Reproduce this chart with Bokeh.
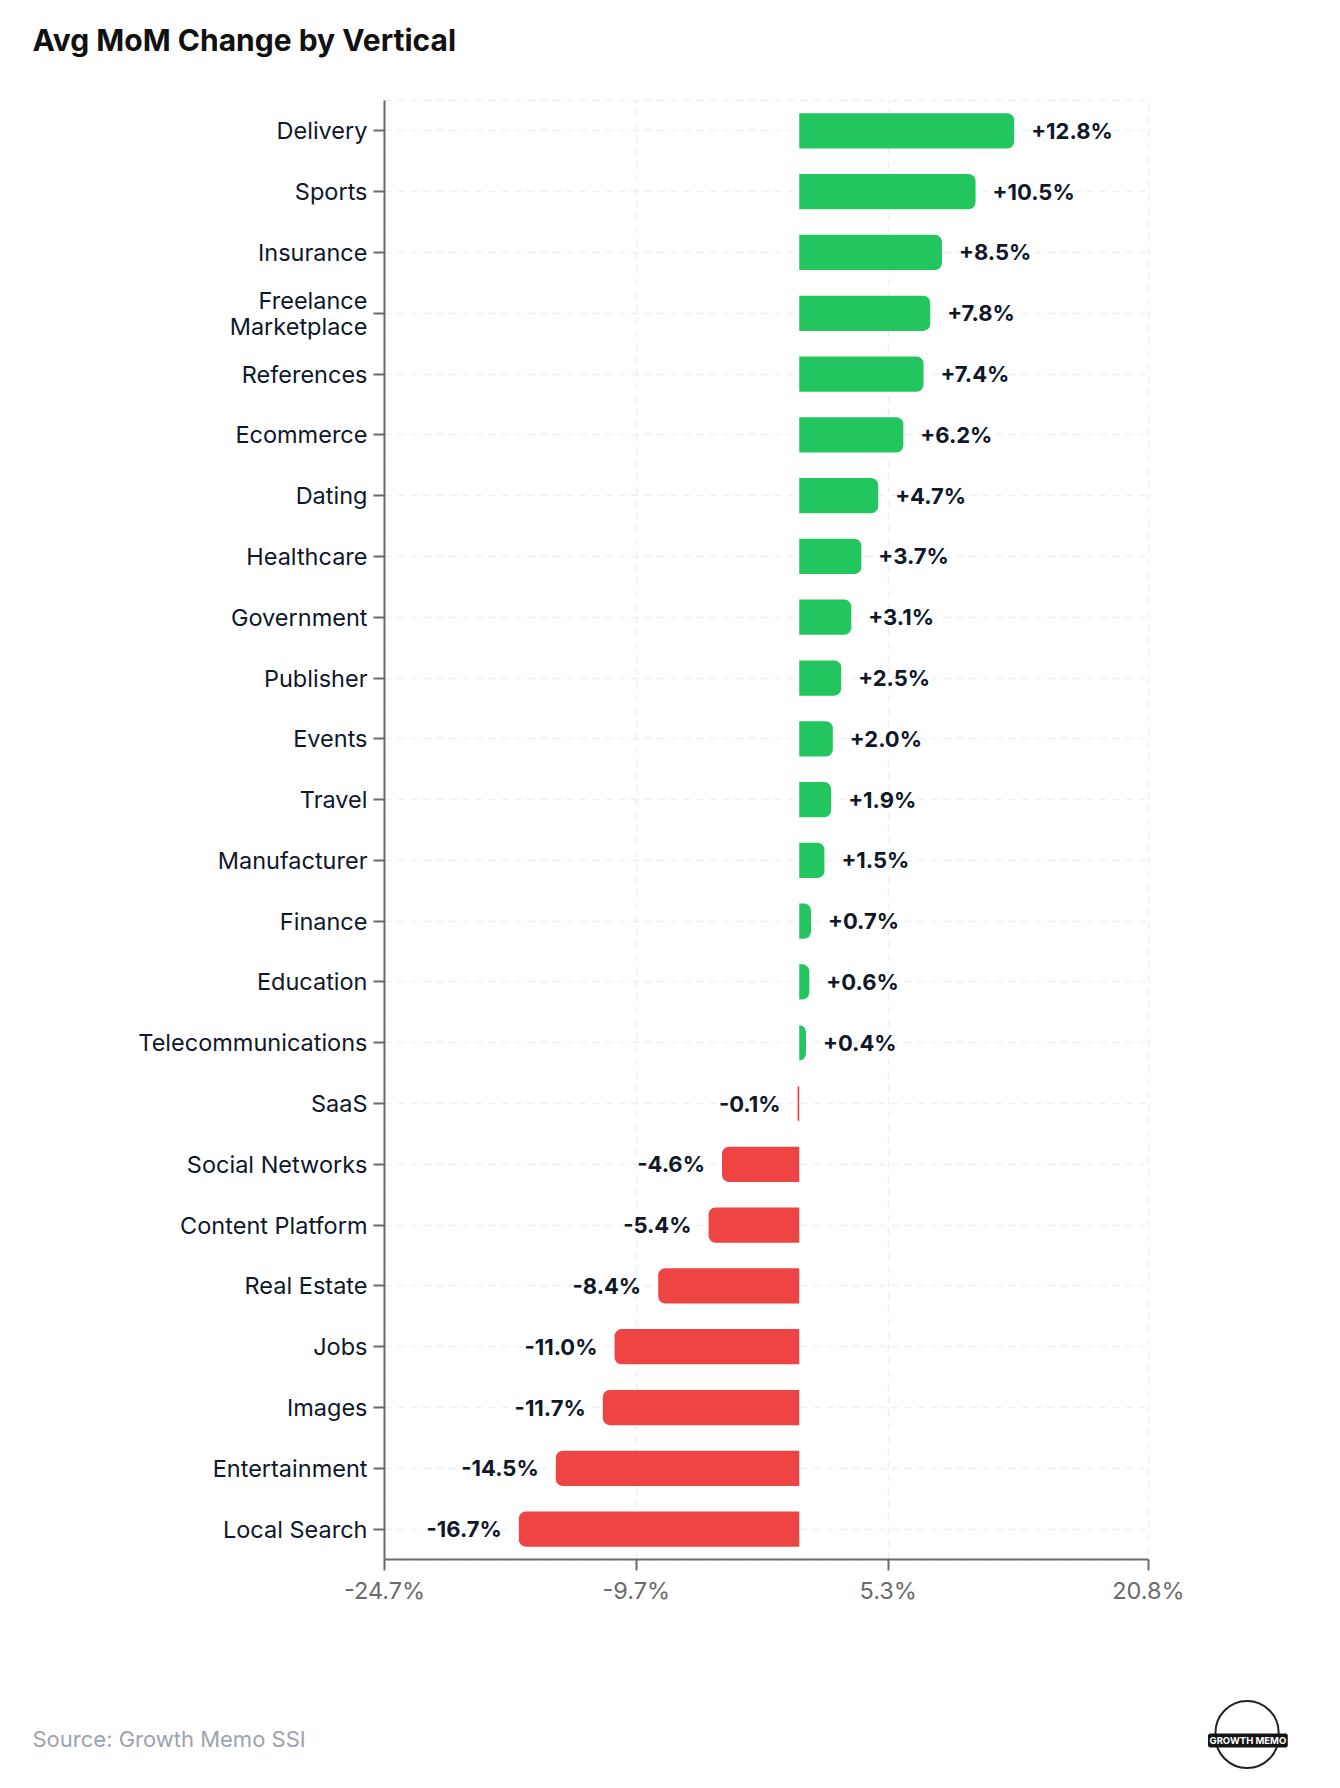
from bokeh.plotting import figure
from bokeh.models import Range1d, FactorRange, FixedTicker, PrintfTickFormatter, ColumnDataSource, Title
from bokeh.embed import file_html
from bokeh.resources import INLINE
from bokeh.core.properties import value

# ---- data ----
title_text = "Avg MoM Change by Vertical"
source_text = "Source: Growth Memo SSI"
logo_text = "GROWTH MEMO"
verticals = ["Delivery", "Sports", "Insurance", "Freelance\nMarketplace", "References",
             "Ecommerce", "Dating", "Healthcare", "Government", "Publisher", "Events",
             "Travel", "Manufacturer", "Finance", "Education", "Telecommunications",
             "SaaS", "Social Networks", "Content Platform", "Real Estate", "Jobs",
             "Images", "Entertainment", "Local Search"]
changes = [12.8, 10.5, 8.5, 7.8, 7.4, 6.2, 4.7, 3.7, 3.1, 2.5, 2.0, 1.9, 1.5, 0.7,
           0.6, 0.4, -0.1, -4.6, -5.4, -8.4, -11.0, -11.7, -14.5, -16.7]
x_ticks = [-24.7, -9.7, 5.3, 20.8]
x_min, x_max = -24.7, 20.8

FONT = "Inter"
W, H = 1324, 1772
FL, FR, FT, FB = 384, 1148, 100, 1559   # frame edges in canvas px
GREEN = "#22c55e"
RED = "#ef4444"
DARK = "#111827"

factors = list(reversed(verticals))
p = figure(width=W, height=H, y_range=FactorRange(factors=factors),
           x_range=Range1d(x_min, x_max), toolbar_location=None, output_backend="svg",
           min_border_left=FL, min_border_right=W - FR, min_border_top=FT,
           min_border_bottom=H - FB)

pos = ColumnDataSource(dict(y=[v for v, c in zip(verticals, changes) if c >= 0],
                            x=[c for c in changes if c >= 0],
                            lab=[f"{c:+.1f}%" for c in changes if c >= 0]))
neg = ColumnDataSource(dict(y=[v for v, c in zip(verticals, changes) if c < 0],
                            x=[c for c in changes if c < 0],
                            lab=[f"{c:+.1f}%" for c in changes if c < 0]))

p.hbar(y="y", left=0, right="x", height=0.58, source=pos, fill_color=GREEN,
       line_color=None, border_radius=(0, 7, 7, 0))
p.hbar(y="y", left="x", right=0, height=0.58, source=neg, fill_color=RED,
       line_color=None, border_radius=(7, 0, 0, 7))

p.text(x="x", y="y", text="lab", source=pos, x_offset=17, text_align="left",
       text_baseline="middle", text_font=value(FONT), text_font_style="bold",
       text_font_size="22px", text_color=DARK)
p.text(x="x", y="y", text="lab", source=neg, x_offset=-17, text_align="right",
       text_baseline="middle", text_font=value(FONT), text_font_style="bold",
       text_font_size="22px", text_color=DARK)

# title (pushed up by an invisible spacer between it and the frame)
p.title.text = title_text
p.title.align = "left"
p.title.offset = 32 - FL
p.title.text_font = FONT
p.title.text_font_style = "bold"
p.title.text_font_size = "30px"
p.title.text_color = "#111111"
p.title.standoff = 10
p.add_layout(Title(text=" ", text_font_size="1px", standoff=35), "above")

# axes
p.xaxis.ticker = FixedTicker(ticks=x_ticks)
p.xaxis.formatter = PrintfTickFormatter(format="%.1f%%")
for ax in (p.xaxis, p.yaxis):
    ax.axis_line_color = "#6b6b6b"
    ax.axis_line_width = 2
    ax.major_tick_line_color = "#6b6b6b"
    ax.major_tick_line_width = 2
    ax.major_tick_out = 11
    ax.major_tick_in = 0
    ax.minor_tick_line_color = None
    ax.major_label_text_font = FONT
    ax.major_label_text_font_size = "23.5px"
p.xaxis.major_label_text_color = "#6b6b6b"
p.yaxis.major_label_text_color = "#0f172a"
p.yaxis.major_label_text_line_height = 0.9
p.yaxis.major_label_standoff = 6
p.xaxis.major_label_standoff = 5

# grid
for g in (p.xgrid, p.ygrid):
    g.grid_line_color = "#eceff3"
    g.grid_line_dash = "7 6"
    g.grid_line_width = 1.5
p.outline_line_color = "#eceff3"
p.outline_line_dash = "7 6"
p.outline_line_width = 1.5

# ---- footer: spacer, logo ring, logo banner, source ----
p.add_layout(Title(text=" ", text_font_size="1px", standoff=113), "below")
ring = Title(text=" ", align="left", offset=1215 - FL, standoff=-89,
             text_font_size="4px", padding=31, border_radius=34,
             background_fill_color="white", border_line_color="#222222",
             border_line_width=2)
p.add_layout(ring, "below")
banner = Title(text=logo_text, align="left", offset=1209 - FL, standoff=-45,
               text_font=FONT, text_font_size="9.5px", text_font_style="bold",
               text_color="white", background_fill_color="#151515",
               border_line_color="#151515", border_line_width=3)
p.add_layout(banner, "below")
src = Title(text=source_text, align="left", offset=32 - FL, standoff=0,
            text_font=FONT, text_font_size="22px", text_font_style="normal",
            text_color="#9ca3af")
p.add_layout(src, "below")

open("out.html", "w").write(file_html(p, INLINE))
